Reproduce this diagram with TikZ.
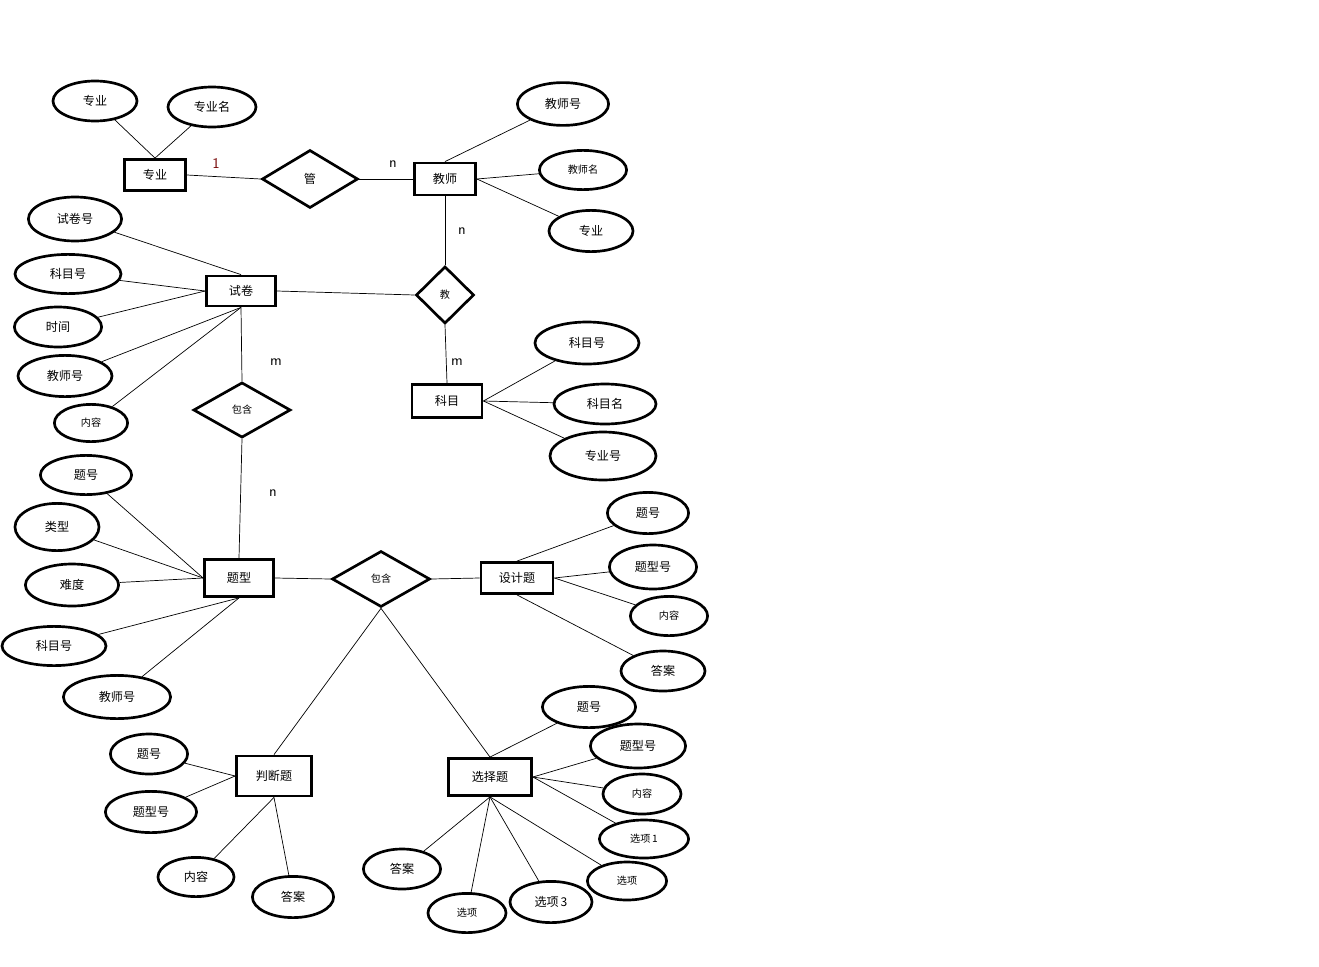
\documentclass[tikz,border=0pt]{standalone}
\usepackage{fontspec}
\newfontfamily\cjk{Noto Sans CJK SC}
\usetikzlibrary{shapes.geometric}
\tikzset{
  entity/.style = {rectangle, draw, line width=2pt, inner sep=0pt},
  attr/.style   = {ellipse, draw, line width=1.9pt, inner sep=0pt},
  rel/.style    = {diamond, draw, line width=1.9pt, inner sep=0pt, aspect=1.7},
  link/.style   = {line width=0.5pt},
  card/.style   = {font=\fontsize{10.5}{12}\selectfont\sffamily},
  small/.style  = {font=\cjk\fontsize{7.2}{8}\selectfont},
}
\begin{document}
\begin{tikzpicture}[x=0.025cm,y=-0.025cm,
    every node/.append style={font=\cjk\fontsize{8.6}{10}\selectfont}]
  \useasboundingbox (0,0) rectangle (1319,966);

  % ---------------- entities ---------------------------------------------
  \node[entity,minimum width=1.525cm,minimum height=0.775cm] (zy) at (155,175) {专业};
  \node[entity,minimum width=1.525cm,minimum height=0.8cm] (js) at (445,179) {教师};
  \node[entity,minimum width=1.725cm,minimum height=0.75cm] (sj) at (241,291) {试卷};
  \node[entity,minimum width=1.75cm,minimum height=0.825cm] (km) at (447,401) {科目};
  \node[entity,minimum width=1.725cm,minimum height=0.925cm] (tx) at (239,578) {题型};
  \node[entity,minimum width=1.8cm,minimum height=0.775cm] (sjt) at (517,578) {设计题};
  \node[entity,minimum width=1.875cm,minimum height=1cm] (pdt) at (274,776) {判断题};
  \node[entity,minimum width=2.075cm,minimum height=0.925cm] (xzt) at (490,777) {选择题};

  % ---------------- relations --------------------------------------------
  \node[rel,minimum width=2.4cm,minimum height=1.45cm] (guan) at (310,179) {管};
  \node[rel,aspect=1,minimum width=1.45cm,minimum height=1.43cm,small] (jiao) at (445,295) {教};
  \node[rel,minimum width=2.43cm,minimum height=1.38cm,small] (bh1) at (242,410) {包含};
  \node[rel,minimum width=2.45cm,minimum height=1.4cm,small] (bh2) at (381,579) {包含};

  % ---------------- attributes -------------------------------------------
  \node[attr,minimum width=2.1cm,minimum height=1cm] (zy1) at (95,101) {专业};
  \node[attr,minimum width=2.2cm,minimum height=1cm] (zy2) at (212,107) {专业名};
  \node[attr,minimum width=2.28cm,minimum height=1.07cm] (js1) at (563,104) {教师号};
  \node[attr,minimum width=2.18cm,minimum height=0.98cm,small] (js2) at (583,170) {教师名};
  \node[attr,minimum width=2.1cm,minimum height=1.03cm] (js3) at (591,231) {专业};
  \node[attr,minimum width=2.33cm,minimum height=1.1cm] (sj1) at (75,219) {试卷号};
  \node[attr,minimum width=2.65cm,minimum height=0.98cm] (sj2) at (68,274) {科目号};
  \node[attr,minimum width=2.18cm,minimum height=1cm] (sj3) at (58,327) {时间};
  \node[attr,minimum width=2.35cm,minimum height=1.03cm] (sj4) at (65,376) {教师号};
  \node[attr,minimum width=1.83cm,minimum height=0.93cm,small] (sj5) at (91,423) {内容};
  \node[attr,minimum width=2.6cm,minimum height=1.05cm] (km1) at (587,343) {科目号};
  \node[attr,minimum width=2.55cm,minimum height=1cm] (km2) at (605,404) {科目名};
  \node[attr,minimum width=2.65cm,minimum height=1.2cm] (km3) at (603,456) {专业号};
  \node[attr,minimum width=2.28cm,minimum height=0.98cm] (tx1) at (86,475) {题号};
  \node[attr,minimum width=2.1cm,minimum height=1.18cm] (tx2) at (57,527) {类型};
  \node[attr,minimum width=2.33cm,minimum height=1.05cm] (tx3) at (72,585) {难度};
  \node[attr,minimum width=2.6cm,minimum height=0.98cm] (tx4) at (54,646) {科目号};
  \node[attr,minimum width=2.68cm,minimum height=1.08cm] (tx5) at (117,697) {教师号};
  \node[attr,minimum width=2.03cm,minimum height=1.03cm] (sjt1) at (648,513) {题号};
  \node[attr,minimum width=2.18cm,minimum height=1.1cm] (sjt2) at (653,567) {题型号};
  \node[attr,minimum width=1.93cm,minimum height=0.98cm,small] (sjt3) at (669,616) {内容};
  \node[attr,minimum width=2.1cm,minimum height=1cm] (sjt4) at (663,671) {答案};
  \node[attr,minimum width=1.93cm,minimum height=1cm] (pdt1) at (149,754) {题号};
  \node[attr,minimum width=2.28cm,minimum height=1.03cm] (pdt2) at (151,812) {题型号};
  \node[attr,minimum width=1.9cm,minimum height=0.98cm] (pdt3) at (196,877) {内容};
  \node[attr,minimum width=2.03cm,minimum height=1.03cm] (pdt4) at (293,897) {答案};
  \node[attr,minimum width=2.33cm,minimum height=1.03cm] (xzt1) at (589,707) {题号};
  \node[attr,minimum width=2.38cm,minimum height=1.1cm] (xzt2) at (638,746) {题型号};
  \node[attr,minimum width=1.95cm,minimum height=1cm,small] (xzt3) at (642,794) {内容};
  \node[attr,minimum width=2.23cm,minimum height=0.95cm,small] (xzt4) at (644,839) {选项\,1};
  \node[attr,minimum width=1.98cm,minimum height=0.95cm,small] (xzt5) at (627,881) {选项};
  \node[attr,minimum width=2.05cm,minimum height=1.03cm] (xzt6) at (551,902) {选项\,3};
  \node[attr,minimum width=1.95cm,minimum height=0.98cm,small] (xzt7) at (467,913) {选项};
  \node[attr,minimum width=1.93cm,minimum height=1cm] (xzt8) at (402,869) {答案};

  % ---------------- connectors -------------------------------------------
  \draw[link] (zy.north) -- (zy1);
  \draw[link] (zy.north) -- (zy2);
  \draw[link] (zy.east) -- (guan.west);
  \draw[link] (guan.east) -- (js.west);
  \draw[link] (js.north) -- (js1);
  \draw[link] (js.east) -- (js2);
  \draw[link] (js.east) -- (js3);
  \draw[link] (js.south) -- (jiao.north);
  \draw[link] (jiao.south) -- (km.north);
  \draw[link] (sj.east) -- (jiao.west);
  \draw[link] (sj.north) -- (sj1);
  \draw[link] (sj.west) -- (sj2);
  \draw[link] (sj.west) -- (sj3);
  \draw[link] (sj.south) -- (sj4);
  \draw[link] (sj.south) -- (sj5);
  \draw[link] (sj.south) -- (bh1.north);
  \draw[link] (bh1.south) -- (tx.north);
  \draw[link] (km.east) -- (km1);
  \draw[link] (km.east) -- (km2);
  \draw[link] (km.east) -- (km3);
  \draw[link] (tx.west) -- (tx1);
  \draw[link] (tx.west) -- (tx2);
  \draw[link] (tx.west) -- (tx3);
  \draw[link] (tx.south) -- (tx4);
  \draw[link] (tx.south) -- (tx5);
  \draw[link] (tx.east) -- (bh2.west);
  \draw[link] (bh2.east) -- (sjt.west);
  \draw[link] (bh2.south) -- (pdt.north);
  \draw[link] (bh2.south) -- (xzt.north);
  \draw[link] (sjt.north) -- (sjt1);
  \draw[link] (sjt.east) -- (sjt2);
  \draw[link] (sjt.east) -- (sjt3);
  \draw[link] (sjt.south) -- (sjt4);
  \draw[link] (pdt.west) -- (pdt1);
  \draw[link] (pdt.west) -- (pdt2);
  \draw[link] (pdt.south) -- (pdt3);
  \draw[link] (pdt.south) -- (pdt4);
  \draw[link] (xzt.north) -- (xzt1);
  \draw[link] (xzt.east) -- (xzt2);
  \draw[link] (xzt.east) -- (xzt3);
  \draw[link] (xzt.east) -- (xzt4);
  \draw[link] (xzt.south) -- (xzt5);
  \draw[link] (xzt.south) -- (xzt6);
  \draw[link] (xzt.south) -- (xzt7);
  \draw[link] (xzt.south) -- (xzt8);

  % ---------------- cardinalities ----------------------------------------
  \node[card,text=red!45!black] (c1) at (216,163) {1};
  \node[card] (c2) at (393,164) {n};
  \node[card] (c3) at (462,231) {n};
  \node[card] (c4) at (457,362) {m};
  \node[card] (c5) at (276,362) {m};
  \node[card] (c6) at (273,493) {n};
\end{tikzpicture}
\end{document}
